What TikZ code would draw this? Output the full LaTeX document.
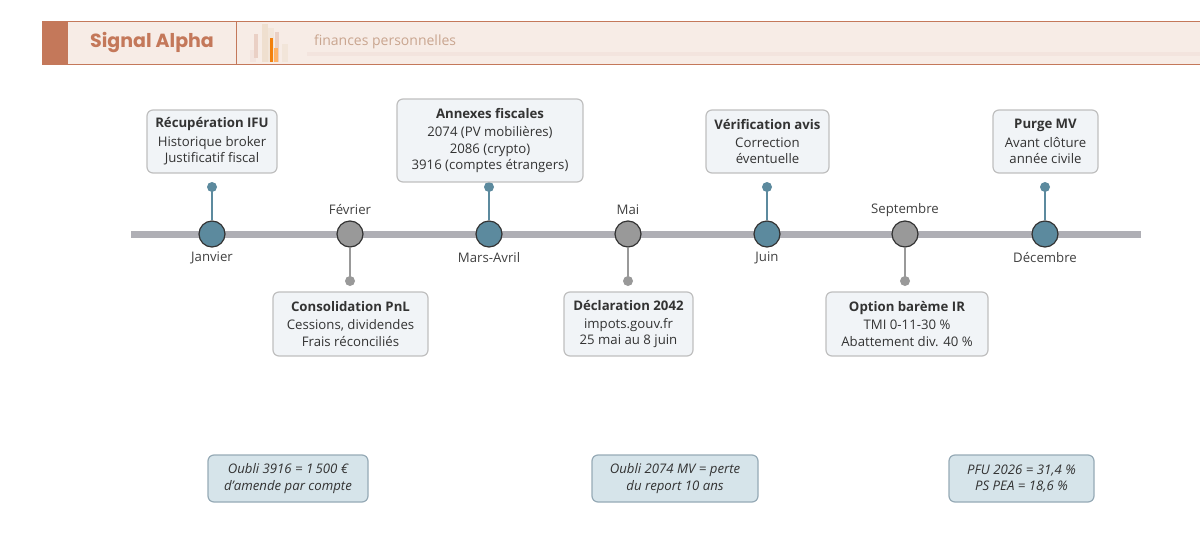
\documentclass[tikz,border=0pt]{standalone}
\usepackage{fontspec}
\setmainfont{Open Sans}
\newfontfamily\pop{Poppins}
\begin{document}
\begin{tikzpicture}[x=0.5pt,y=-0.5pt,
  box/.style={draw=black!25,fill={rgb,255:red,241;green,244;blue,247},rounded corners=3pt,line width=0.6pt,align=center,inner sep=0pt},
  note/.style={draw={rgb,255:red,150;green,170;blue,182},fill={rgb,255:red,214;green,228;blue,234},rounded corners=3pt,line width=0.6pt,align=center,font=\fontsize{6.6}{8.2}\selectfont\itshape,inner sep=0pt},
  bm/.style={circle,draw=black!80,fill=bluem,minimum size=13pt,inner sep=0pt,line width=0.6pt},
  gm/.style={circle,draw=black!80,fill=black!40,minimum size=13pt,inner sep=0pt,line width=0.6pt},
  lab/.style={font=\fontsize{6.6}{8}\selectfont,text=black!75},
  every node/.append style={font=\fontsize{6.6}{8.2}\selectfont,text=black!80}]
\definecolor{bluem}{HTML}{5C8A9E}
\definecolor{brick}{HTML}{C4785A}
\useasboundingbox (0,0) rectangle (1200,541);
% header
\fill[fill={rgb,255:red,247;green,236;blue,230}] (42,21) rectangle (1200,64);
\draw[brick,line width=0.5pt] (42,21)--(1200,21) (42,64)--(1200,64) (236,21)--(236,64);
\fill[brick] (42,21) rectangle (68,64);
\node[font=\pop\fontsize{9.5}{10}\selectfont\bfseries,text=brick] (title) at (152,43) {Signal Alpha};
\fill[brick!20] (250,50) rectangle (256,62); \fill[brick!35] (254,34) rectangle (258,58);
\fill[brown!25] (262,24) rectangle (268,62);
\fill[brown!20] (268,28) rectangle (274,62); \fill[orange!80!brown] (270,38) rectangle (273,62);
\fill[brick!35] (275,32) rectangle (279,62); \fill[orange!60] (274,48) rectangle (278,62);
\fill[brown!20] (282,44) rectangle (288,62);
\fill[brick!20] (307,52) rectangle (1200,56);
\node[anchor=west,font=\fontsize{7}{8}\selectfont,text={rgb,255:red,201;green,165;blue,143}] (sub) at (307,42) {finances personnelles};
% timeline
\draw[black!25!blue!5!gray!60,line width=3.5pt] (131,234) coordinate (ls) -- (1141,234) coordinate (le);
\foreach \n/\x/\s in {a/212/bm,b/350/gm,c/489/bm,d/628/gm,e/767/bm,f/905/gm,g/1045/bm}{
  \node[\s] (m\n) at (\x,234) {};}
\foreach \n/\x in {a/212,c/489,e/767,g/1045}{
  \fill[bluem] (\x,187) circle (5) coordinate (d\n);
  \draw[bluem,line width=0.8pt] (m\n.north) -- (\x,187);}
\foreach \n/\x in {b/350,d/628,f/905}{
  \fill[black!40] (\x,281) circle (5) coordinate (d\n);
  \draw[black!40,line width=0.8pt] (m\n.south) -- (\x,281);}
\node[lab] (la) at (212,258) {Janvier};
\node[lab] (lc) at (489,258) {Mars-Avril};
\node[lab] (le2) at (767,258) {Juin};
\node[lab] (lg) at (1045,258) {Décembre};
\node[lab] (lb) at (350,210) {Février};
\node[lab] (ld) at (628,210) {Mai};
\node[lab] (lf) at (905,210) {Septembre};
% boxes
\node[box,minimum width=65pt,minimum height=31.5pt] (ba) at (212,141.5) {\textbf{Récupération IFU}\\[1pt]Historique broker\\Justificatif fiscal};
\node[box,minimum width=93pt,minimum height=41.5pt] (bc) at (490,140.5) {\textbf{Annexes fiscales}\\[1pt]2074 (PV mobilières)\\2086 (crypto)\\3916 (comptes étrangers)};
\node[box,minimum width=61.5pt,minimum height=31.5pt] (be) at (767.5,141.5) {\textbf{Vérification avis}\\[1pt]Correction\\éventuelle};
\node[box,minimum width=52.5pt,minimum height=31.5pt] (bg) at (1045.5,141.5) {\textbf{Purge MV}\\[1pt]Avant clôture\\année civile};
\node[box,minimum width=77.5pt,minimum height=32pt] (bb) at (350.5,324) {\textbf{Consolidation PnL}\\[1pt]Cessions, dividendes\\Frais réconciliés};
\node[box,minimum width=64.5pt,minimum height=32pt] (bd) at (628.5,324) {\textbf{Déclaration 2042}\\[1pt]impots.gouv.fr\\25 mai au 8 juin};
\node[box,minimum width=81pt,minimum height=32pt] (bf) at (907,324) {\textbf{Option barème IR}\\[1pt]TMI 0-11-30 \%\\Abattement div. 40 \%};
% notes
\node[note,minimum width=80pt,minimum height=23.5pt] (n1) at (288,478.5) {Oubli 3916 = 1\,500 €\\d'amende par compte};
\node[note,minimum width=83pt,minimum height=23.5pt] (n2) at (675,478.5) {Oubli 2074 MV = perte\\du report 10 ans};
\node[note,minimum width=72.5pt,minimum height=23.5pt] (n3) at (1021.5,478.5) {PFU 2026 = 31,4 \%\\PS PEA = 18,6 \%};
\end{tikzpicture}
\end{document}
